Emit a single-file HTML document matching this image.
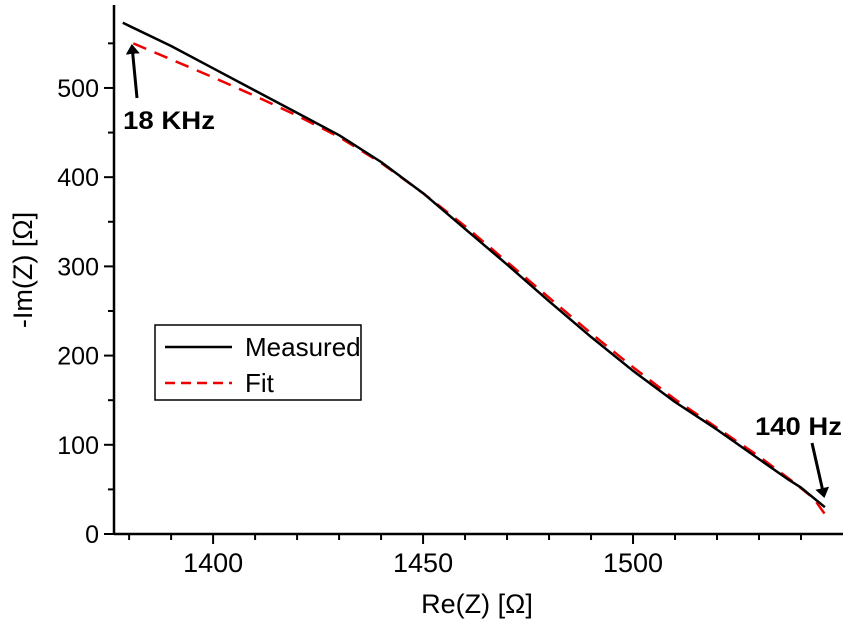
<!DOCTYPE html>
<html><head><meta charset="utf-8"><style>
html,body{margin:0;padding:0;background:#fff}
svg{display:block;font-family:"Liberation Sans",Arial,sans-serif}
</style></head><body>
<svg id="chart" width="844" height="625" viewBox="0 0 844 625">
<defs><marker id="ah" markerWidth="10" markerHeight="14" refX="8" refY="7" orient="auto" markerUnits="userSpaceOnUse"><path d="M0,0 L10,7 L0,14 z" fill="#000"/></marker></defs>
<g id="axes"></g>
<g id="series"></g>
<g id="annot">
<text x="123" y="129" font-size="25" font-weight="bold" textLength="92" lengthAdjust="spacingAndGlyphs">18 KHz</text>
<line x1="137" y1="98" x2="132" y2="46" stroke="#000" stroke-width="3" marker-end="url(#ah)"/>
<text x="755" y="435" font-size="25" font-weight="bold" textLength="87" lengthAdjust="spacingAndGlyphs">140 Hz</text>
<line x1="812" y1="443" x2="824" y2="496" stroke="#000" stroke-width="3" marker-end="url(#ah)"/>
</g>
<g>
<rect x="155" y="325" width="206" height="75" fill="#fff" stroke="#000" stroke-width="1.5"/>
<line x1="165" y1="347" x2="232" y2="347" stroke="#000" stroke-width="2.5"/>
<text x="245" y="356" font-size="26">Measured</text>
<line x1="165" y1="383" x2="232" y2="383" stroke="#e00" stroke-width="2.5" stroke-dasharray="10,6"/>
<text x="245" y="392" font-size="26">Fit</text>
</g>
<text x="477" y="613" font-size="27" text-anchor="middle">Re(Z) [Ω]</text>
<text transform="translate(32,270) rotate(-90)" font-size="27" text-anchor="middle">-Im(Z) [Ω]</text>
</svg>
<script>
const xTicks=[1400,1450,1500];
const yTicks=[0,100,200,300,400,500];
const measX=[1378.5,1390,1400,1410,1420,1430,1440,1450,1460,1470,1480,1490,1500,1510,1520,1530,1537,1540,1545.7];
const measY=[573,547,522,497,472,447,417,382,342,302,261,221,183,148,117,84,61,52,30];
const fitX=[1381,1390,1400,1410,1420,1430,1440,1450,1460,1470,1480,1490,1500,1510,1520,1530,1538,1543,1546.2];
const fitY=[550,532,512,491,469,445,416,382,345,305,265,225,187,151,119,87,59,40,19];
const X0=1376.4,X1=1550,px0=114,px1=843,Y0=0,Y1=593,py0=534,py1=5;
const sx=v=>px0+(v-X0)/(X1-X0)*(px1-px0);
const sy=v=>py0-(v-Y0)/(Y1-Y0)*(py0-py1);
const NS="http://www.w3.org/2000/svg";
const ax=document.getElementById('axes'),se=document.getElementById('series');
function mk(t,a,p){const e=document.createElementNS(NS,t);for(const k in a)e.setAttribute(k,a[k]);p.appendChild(e);return e;}
let e=mk('line',{x1:px0,y1:py0,x2:px1,y2:py0,stroke:'#000','stroke-width':2.5},ax);


e=mk('line',{x1:px0,y1:py0,x2:px0,y2:py1,stroke:'#000','stroke-width':2.5},ax);


for(let v=1380;v<=1545;v+=10){const maj=v%50===0;mk('line',{x1:sx(v),y1:py0,x2:sx(v),y2:py0+(maj?10:6),stroke:'#000','stroke-width':2},ax);}
for(let v=0;v<=575;v+=50){const maj=v%100===0;mk('line',{x1:px0,y1:sy(v),x2:px0-(maj?10:6),y2:sy(v),stroke:'#000','stroke-width':2},ax);}
xTicks.forEach(v=>{const t=mk('text',{x:sx(v),y:py0+38,'font-size':27,'text-anchor':'middle'},ax);t.textContent=v;

});
yTicks.forEach(v=>{const t=mk('text',{x:px0-15,y:sy(v)+9,'font-size':25,'text-anchor':'end'},ax);t.textContent=v;

});
const pts=(xs,ys)=>xs.map((x,i)=>sx(x).toFixed(1)+','+sy(ys[i]).toFixed(1)).join(' ');
e=mk('polyline',{points:pts(fitX,fitY),fill:'none',stroke:'#e00','stroke-width':2.5,'stroke-dasharray':'14,9'},se);


e=mk('polyline',{points:pts(measX,measY),fill:'none',stroke:'#000','stroke-width':2.5,'stroke-linejoin':'round'},se);


</script>
</body></html>
